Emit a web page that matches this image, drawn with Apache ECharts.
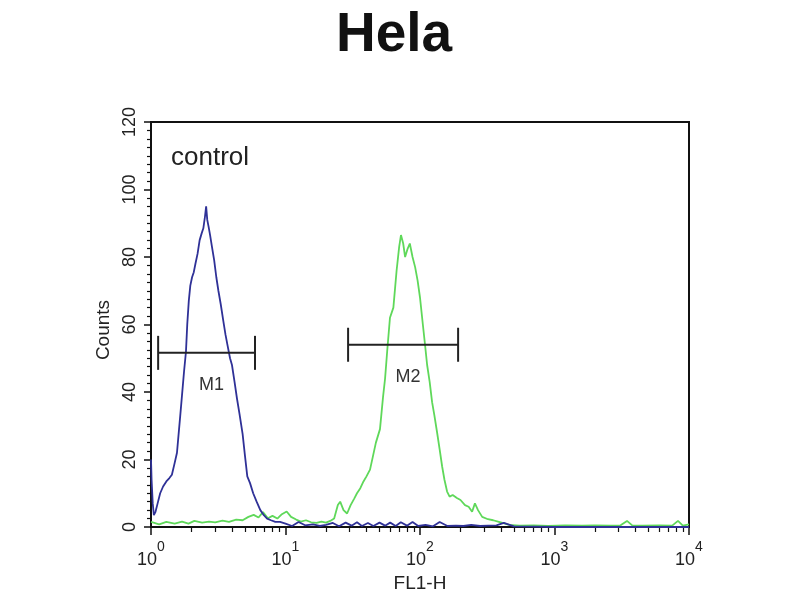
<!DOCTYPE html>
<html>
<head>
<meta charset="utf-8">
<title>Hela</title>
<script src="https://cdn.jsdelivr.net/npm/echarts@6/dist/echarts.min.js"></script>
<style>
  html, body { margin: 0; padding: 0; background: #fff; }
  #chart { width: 800px; height: 600px; }
</style>
</head>
<body>
<div id="chart"></div>
<script>
// control histogram (blue)
var blueX = [1.00, 1.01, 1.03, 1.05, 1.08, 1.12, 1.17, 1.23, 1.30, 1.37, 1.43, 1.50, 1.56, 1.60, 1.65, 1.70, 1.76, 1.82, 1.86, 1.91, 1.96, 2.02, 2.08, 2.14, 2.22, 2.30, 2.38, 2.45, 2.52, 2.57, 2.62, 2.68, 2.75, 2.84, 2.95, 3.06, 3.17, 3.30, 3.45, 3.58, 3.72, 3.87, 4.00, 4.18, 4.36, 4.55, 4.80, 5.00, 5.20, 5.45, 5.75, 6.10, 6.50, 6.90, 7.30, 7.80, 8.40, 9.10, 10.0, 11.2, 12.5, 14.0, 16.0, 18.0, 20.0, 22.5, 25.0, 28.0, 31.0, 34.0, 37.0, 41.0, 45.0, 50.0, 55.0, 60.0, 66.0, 72.0, 80.0, 88.0, 97.0, 110, 125, 140, 160, 185, 210, 240, 280, 320, 370, 420, 500, 700, 1000, 2000, 4000, 10000];
var blueCounts = [20, 14, 7, 3.5, 4.5, 7, 10, 12, 13.5, 14.5, 15.5, 19, 22, 27, 33, 39, 46, 52, 60, 67, 71.5, 74, 75.5, 78, 81, 85, 87, 88.5, 92, 95, 91, 89, 86.5, 83, 79, 74, 70, 66, 61, 57, 53.5, 50, 48, 43, 38, 33.5, 27.5, 21, 15, 13, 10, 7.5, 5, 3.5, 2.5, 2, 1.5, 1.5, 1, 0.3, 1.5, 0.5, 0.8, 0.3, 0.6, 1.2, 0.2, 1.3, 0.4, 1.4, 0.3, 1.2, 0.3, 1.3, 0.4, 1.3, 0.3, 1.4, 0.4, 1.5, 0.3, 0.6, 0.2, 1.5, 0.3, 0.4, 0.3, 0.6, 0.3, 0.4, 0.5, 1.2, 0.2, 0.1, 0, 0, 0, 0];

// stained sample histogram (green)
var greenX = [1.00, 1.15, 1.3, 1.5, 1.7, 1.9, 2.1, 2.4, 2.7, 3.0, 3.4, 3.8, 4.3, 4.8, 5.3, 5.8, 6.3, 6.8, 7.4, 8.0, 8.7, 9.4, 10.2, 11.0, 12.0, 13.0, 14.2, 15.5, 17.0, 18.5, 20.0, 21.5, 23.0, 24.5, 25.5, 27.0, 28.7, 30.5, 32.5, 34.0, 36.0, 38.0, 40.0, 42.5, 44.7, 47.0, 50.4, 53.1, 55.0, 57.0, 59.8, 63.4, 67.0, 70.0, 72.2, 75.0, 77.5, 81.0, 84.0, 88.0, 92.0, 96.0, 100, 105, 109, 113, 118, 123, 128, 134, 140, 146, 152, 159, 166, 175, 188, 200, 216, 230, 244, 256, 270, 290, 320, 350, 380, 410, 460, 550, 700, 900, 1200, 1600, 2000, 2600, 3100, 3460, 3800, 4500, 6000, 7500, 8280, 9000, 10000];
var greenCounts = [1.5, 0.8, 1.5, 1.0, 1.6, 1.0, 1.8, 1.3, 1.6, 1.4, 1.9, 1.5, 2.2, 2.0, 3.0, 3.6, 2.8, 4.4, 2.6, 3.3, 2.5, 3.8, 4.6, 3.0, 2.2, 1.6, 2.0, 1.4, 1.2, 1.6, 1.3, 1.8, 2.5, 6.5, 7.5, 5.0, 4.0, 6.5, 8.5, 10, 11.5, 13.5, 15, 17, 21, 25, 29, 38.5, 44, 52, 62, 65, 76, 83, 86.5, 84, 80, 82.5, 84, 80, 77, 73, 68, 60, 54, 48, 43, 37, 33, 28, 23, 18, 14, 10.5, 9, 9.5, 8.6, 8, 6.5, 6, 4.5, 7, 5, 3, 2.3, 2, 1.6, 1.2, 0.6, 0.4, 0.5, 0.3, 0.5, 0.4, 0.5, 0.4, 0.5, 1.8, 0.4, 0.4, 0.5, 0.4, 1.8, 0.4, 0.8];

// marker gates
var markerNames = ['M1', 'M2'];
var markerLow = [1.13, 29.2];
var markerHigh = [5.93, 192];
var markerLevel = [51.6, 54];

// axis ticks
var decadeTicks = [1, 10, 100, 1000, 10000];
var minorTicks = [];
decadeTicks.slice(0, 4).forEach(function (d) {
    for (var k = 2; k <= 9; k++) minorTicks.push(d * k);
});

function pairs(xs, ys) {
    return xs.map(function (x, i) { return [x, ys[i]]; });
}

var chart = echarts.init(document.getElementById('chart'));

var font = 'Liberation Sans, Arial, sans-serif';

var option = {
    backgroundColor: '#fff',
    animation: false,
    title: {
        text: 'Hela',
        left: 389,
        top: 3,
        textAlign: 'center',
        textStyle: { fontFamily: font, fontSize: 55, fontWeight: 'bold', color: '#111' }
    },
    grid: {
        left: 151, right: 111, top: 122, bottom: 73,
        show: true, borderColor: '#111', borderWidth: 2, backgroundColor: 'transparent'
    },
    graphic: [{
        type: 'text', left: 171, top: 145,
        style: { text: 'control', fontFamily: font, fontSize: 26, fill: '#222' }
    }],
    xAxis: [{
        type: 'log', logBase: 10, min: 1, max: 10000,
        name: 'FL1-H', nameLocation: 'middle', nameGap: 46,
        nameTextStyle: { fontFamily: font, fontSize: 19, color: '#222' },
        axisLine: { lineStyle: { color: '#111', width: 2 } },
        axisTick: { length: 8, lineStyle: { color: '#111', width: 1.5 } },
        splitLine: { show: false },
        axisLabel: {
            margin: 13,
            formatter: function (v) {
                return '{b|10}{e|' + Math.round(Math.log10(v)) + '}';
            },
            rich: {
                b: { fontFamily: font, fontSize: 18, color: '#222' },
                e: { fontFamily: font, fontSize: 14, color: '#222', padding: [0, 0, 26, 0] }
            }
        }
    }, {
        type: 'log', logBase: 10, min: 1, max: 10000, position: 'bottom',
        axisLine: { show: false },
        axisTick: { length: 5, customValues: minorTicks, lineStyle: { color: '#111', width: 1.2 } },
        axisLabel: { show: false },
        splitLine: { show: false }
    }],
    yAxis: {
        type: 'value', min: 0, max: 120, interval: 20,
        name: 'Counts', nameLocation: 'middle', nameGap: 37,
        nameTextStyle: { fontFamily: font, fontSize: 19, color: '#222', padding: [0, 11, 0, 0] },
        axisLine: { show: true, lineStyle: { color: '#111', width: 2 } },
        axisTick: { show: true, length: 7, lineStyle: { color: '#111', width: 1.5 } },
        minorTick: { show: true, splitNumber: 8, length: 4, lineStyle: { color: '#111', width: 1.2 } },
        splitLine: { show: false },
        axisLabel: { rotate: 90, margin: 12, fontFamily: font, fontSize: 18, color: '#222' }
    },
    series: [{
        name: 'sample', type: 'line', data: pairs(greenX, greenCounts),
        showSymbol: false, z: 3,
        lineStyle: { color: '#5fd85a', width: 1.8 }
    }, {
        name: 'control', type: 'line', data: pairs(blueX, blueCounts),
        showSymbol: false, z: 4,
        lineStyle: { color: '#2f3197', width: 1.8 }
    }, {
        name: 'markers', type: 'custom', z: 5,
        data: markerNames.map(function (n, i) { return [markerLow[i], markerHigh[i], markerLevel[i], n]; }),
        renderItem: function (params, api) {
            var a = api.coord([api.value(0), api.value(2)]);
            var b = api.coord([api.value(1), api.value(2)]);
            var cap = 17;
            var st = { stroke: '#222', lineWidth: 2 };
            return {
                type: 'group',
                children: [
                    { type: 'line', shape: { x1: a[0], y1: a[1], x2: b[0], y2: b[1] }, style: st },
                    { type: 'line', shape: { x1: a[0], y1: a[1] - cap, x2: a[0], y2: a[1] + cap }, style: st },
                    { type: 'line', shape: { x1: b[0], y1: b[1] - cap, x2: b[0], y2: b[1] + cap }, style: st },
                    {
                        type: 'text',
                        style: {
                            text: api.value(3), x: (a[0] + b[0]) / 2 + 5, y: a[1] + 32,
                            textAlign: 'center', textVerticalAlign: 'middle',
                            fontFamily: font, fontSize: 18, fill: '#333'
                        }
                    }
                ]
            };
        }
    }]
};

chart.setOption(option);
</script>
</body>
</html>
